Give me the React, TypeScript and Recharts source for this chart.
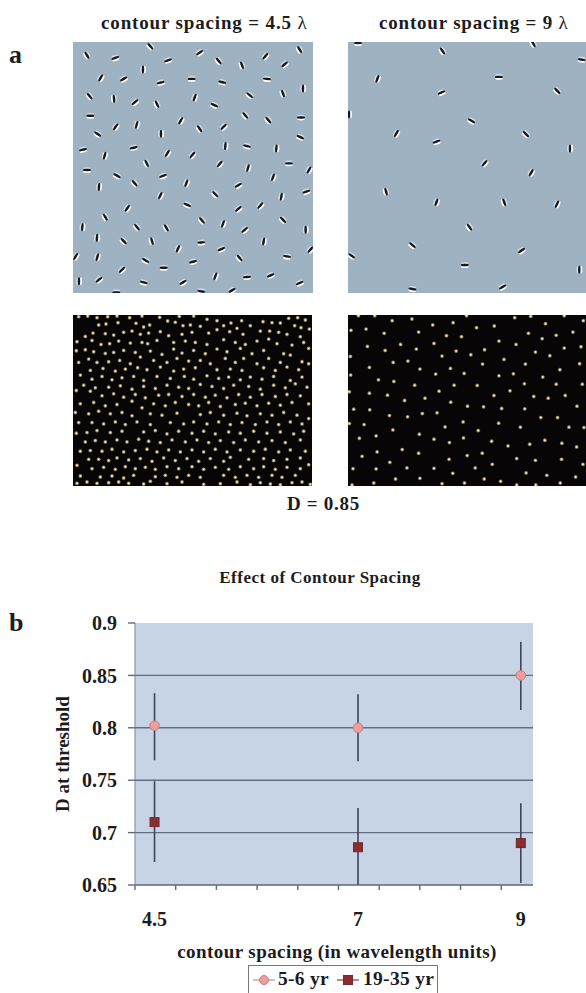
import { CartesianGrid, ErrorBar, Legend, Scatter, ScatterChart, XAxis, YAxis } from "recharts";

// panel a, top row: gabor patches [x, y, tilt in degrees]
const gaborsDense = [
  [262,165,-60],[347,173,20],[452,138,-50],[505,180,20],[600,157,35],[657,182,-50],[727,195,-70],[797,168,50],[855,192,40],[900,148,-60],
  [430,208,90],[303,233,60],[372,236,30],[483,247,15],[576,236,0],[668,246,-15],[802,236,-5],[270,288,-50],[343,296,-85],[406,306,40],
  [472,312,-65],[585,292,70],[644,315,-25],[750,285,-40],[850,280,-70],[910,265,90],[272,347,0],[348,380,55],[411,374,75],[543,362,60],
  [600,386,-55],[672,380,45],[737,346,-50],[806,360,-50],[904,352,0],[294,402,-35],[484,401,90],[902,411,-25],[402,443,15],[250,449,15],
  [677,438,85],[742,438,-15],[830,445,85],[315,467,75],[503,460,60],[578,465,50],[441,490,-65],[660,492,50],[745,504,75],[868,490,0],
  [262,510,0],[352,527,-30],[490,528,20],[820,532,70],[928,510,60],[405,550,-50],[298,561,85],[560,550,70],[716,556,30],[482,587,65],
  [647,583,-45],[845,590,80],[920,575,20],[563,615,-25],[383,625,55],[716,627,40],[782,617,50],[317,652,-60],[607,662,-50],[670,672,70],
  [850,660,-45],[248,682,85],[412,682,-50],[500,684,-60],[735,690,40],[918,690,90],[292,714,85],[372,724,-45],[457,724,-75],[605,728,5],
  [792,725,80],[535,747,65],[665,748,25],[932,750,50],[720,775,-50],[862,770,-10],[293,772,75],[228,770,60],[438,782,-30],[580,786,15],
  [492,804,0],[367,810,45],[238,845,90],[298,840,40],[432,848,-15],[550,848,30],[647,830,70],[742,832,5],[813,827,25],[900,850,25],
  [605,875,-10],[697,872,30],[350,878,0],
];
const gaborsSparse = [
  [115,128,0],[640,130,-60],[368,152,-55],[785,178,-10],[173,236,70],[537,230,0],[365,277,25],[712,272,-45],[88,343,90],[455,362,-30],
  [230,400,60],[618,402,-45],[350,425,20],[750,445,90],[494,490,50],[634,518,60],[199,575,-75],[350,607,70],[553,607,-70],[711,613,65],
  [449,682,-55],[278,736,-40],[605,752,35],[96,768,-35],[435,796,0],[778,810,90],[278,868,-10],[548,862,30],
];

// panel a, bottom row: dot positions [x, y]
const dotsDense = [
  [55,35],[82,33],[110,38],[142,35],[170,33],[208,38],[245,33],[298,37],[357,34],[400,33],[440,43],[470,47],[512,54],[544,47],[608,50],[635,53],[660,54],[685,40],[712,38],[735,45],
  [98,84],[115,60],[137,57],[173,53],[227,55],[250,66],[268,60],[322,48],[345,52],[368,62],[390,60],[420,64],[490,62],[530,70],[570,62],[600,78],[628,78],[655,82],[703,62],[722,68],
  [75,94],[135,86],[160,90],[190,82],[215,78],[240,88],[265,84],[300,80],[325,92],[365,88],[395,82],[445,84],[470,74],[508,80],[548,88],[625,102],[680,88],[720,95],[747,72],
  [50,110],[95,106],[122,118],[148,116],[175,108],[210,114],[245,112],[262,116],[290,106],[340,112],[375,108],[405,112],[440,118],[490,104],[525,112],[555,118],[590,108],[650,116],[695,120],[730,112],
  [48,137],[75,134],[100,140],[135,145],[160,142],[190,136],[225,142],[270,138],[305,148],[340,132],[365,144],[400,136],[435,146],[470,132],[500,140],[540,130],[575,146],[610,136],[670,146],[745,130],
  [55,172],[85,162],[110,172],[145,170],[178,166],[210,176],[240,156],[280,166],[320,172],[350,160],[385,168],[420,166],[450,176],[495,160],[525,172],[550,160],[590,176],[625,160],[660,172],[690,150],[725,170],
  [90,196],[128,190],[165,198],[195,192],[232,188],[260,194],[300,186],[340,198],[370,192],[405,188],[470,194],[510,192],[545,196],[610,188],[645,196],[680,186],[715,194],[745,176],
  [60,210],[95,222],[125,214],[155,224],[185,218],[220,214],[250,226],[290,214],[330,220],[372,214],[400,222],[440,212],[475,220],[505,216],[540,224],[570,216],[605,222],[640,214],[690,226],[725,216],
  [48,256],[70,240],[105,248],[145,246],[180,242],[215,252],[250,244],[285,250],[320,240],[355,246],[385,250],[420,238],[455,244],[490,250],[520,240],[565,244],[600,252],[640,240],[675,248],[705,236],[740,246],
  [90,258],[125,272],[160,266],[190,276],[225,268],[255,278],[295,270],[325,268],[365,274],[400,268],[435,276],[465,270],[500,278],[535,268],[570,276],[605,268],[645,274],[680,268],[720,272],
  [60,296],[100,292],[135,302],[170,298],[215,288],[245,308],[280,296],[315,302],[345,292],[385,298],[415,302],[445,292],[480,304],[525,298],[555,294],[590,302],[625,294],[660,300],[695,292],[745,296],
  [45,322],[85,326],[115,318],[150,326],[185,322],[215,332],[270,326],[305,330],[350,324],[420,328],[450,322],[490,330],[530,324],[560,332],[600,326],[635,330],[670,322],[710,330],
  [55,352],[95,352],[130,356],[165,350],[195,358],[230,350],[270,358],[330,352],[370,356],[400,350],[440,356],[475,350],[510,358],[545,352],[585,358],[620,350],[655,358],[690,350],[725,356],[745,340],
  [80,382],[110,376],[150,382],[185,378],[250,380],[285,376],[320,386],[355,378],[395,384],[430,378],[465,386],[505,380],[540,384],[580,378],[620,384],[660,380],[700,386],[730,378],
  [48,384],[75,410],[105,406],[135,410],[170,404],[200,410],[235,402],[265,408],[300,412],[335,404],[375,410],[410,404],[445,412],[480,406],[520,412],[555,404],[595,410],[635,406],[675,412],[720,404],
  [60,438],[90,436],[125,438],[155,432],[190,440],[225,436],[260,432],[290,440],[325,434],[360,440],[395,434],[430,440],[465,432],[500,440],[540,434],[580,438],[615,432],[655,440],[690,434],[735,438],
  [50,480],[85,462],[115,462],[145,466],[170,458],[205,464],[240,460],[275,468],[310,458],[345,466],[380,460],[415,468],[450,460],[490,468],[510,456],[565,462],[610,460],[640,466],[680,462],[720,458],[745,478],
  [95,490],[130,486],[165,492],[195,484],[225,490],[255,486],[285,492],[320,484],[355,490],[395,484],[430,492],[465,486],[505,492],[540,484],[580,490],[610,484],[645,492],[680,486],[720,490],
  [60,512],[120,515],[155,512],[190,518],[220,510],[285,514],[315,510],[350,516],[385,510],[420,516],[490,510],[525,516],[560,510],[595,516],[635,510],[665,516],[705,510],
  [50,534],[80,530],[110,534],[145,532],[175,530],[205,534],[250,536],[270,528],[320,535],[365,530],[430,537],[480,535],[530,530],[570,538],[600,532],[630,536],[660,538],[695,532],[725,530],[750,537],
];
const dotsSparse = [
  [55,32],[104,32],[156,47],[215,42],[277,60],[338,53],[378,32],[408,68],[461,63],[522,38],[570,34],[614,56],[670,32],[727,47],
  [33,76],[78,72],[132,85],[235,81],[318,92],[363,95],[563,85],[604,101],[646,91],[696,81],
  [82,124],[135,136],[181,118],[228,132],[281,115],[475,108],[526,118],[432,134],[670,129],[720,125],
  [31,154],[305,153],[347,138],[391,149],[584,141],[627,152],[490,163],
  [88,187],[159,172],[203,168],[239,192],[330,190],[426,177],[554,177],[657,194],[716,176],
  [32,210],[286,207],[371,205],[475,212],[518,206],[606,216],
  [115,224],[161,229],[223,240],[341,240],[410,241],[551,236],[646,237],[724,237],
  [28,260],[88,264],[142,270],[296,258],[460,271],[508,257],[579,274],[622,279],[673,271],
  [193,286],[254,279],[331,291],[381,303],[429,305],[708,303],
  [41,312],[89,314],[148,331],[202,335],[246,325],[290,323],[483,310],[552,311],[600,337],[650,337],
  [28,355],[72,358],[368,350],[474,354],[314,365],[539,366],[684,366],[729,367],
  [158,374],[413,376],
  [58,399],[108,392],[237,387],[281,402],[369,398],[327,412],[453,408],[612,405],[567,417],[663,414],[502,422],[707,425],
  [111,440],[186,433],[235,444],[425,444],[66,453],[380,451],
  [149,471],[326,462],[455,477],[528,460],[584,465],[662,462],
  [39,490],[108,491],[200,488],[281,489],[404,488],[726,477],
  [337,504],[556,503],[618,510],[704,515],
  [101,533],[166,521],[239,519],[431,521],[480,528],[36,539],[305,535],[372,533],[528,539],[585,539],[658,533],
];

// panel b
const spacing = [4.5, 7, 9];
const children = [0.802, 0.8, 0.85];
const childrenErr = [[0.033, 0.031], [0.032, 0.032], [0.033, 0.032]];
const adults = [0.71, 0.686, 0.69];
const adultsErr = [[0.038, 0.039], [0.036, 0.0375], [0.038, 0.038]];
const yTicks = [0.65, 0.7, 0.75, 0.8, 0.85, 0.9];
const gridValues = [0.7, 0.75, 0.8, 0.85];
const xMinorTicks = [4.26, 4.76, 5.26, 5.76, 6.26, 6.76, 7.26, 7.76, 8.26, 8.76];

const serif = "'Liberation Serif', serif";
const ink = "#1c1c20";

const toPoints = (rows: number[][]) => rows.map(([x, y, tilt]) => ({ x, y, tilt }));

function GaborMark(props: any) {
  const { cx, cy, payload } = props;
  return (
    <g transform={`translate(${cx} ${cy}) rotate(${-payload.tilt})`}>
      <ellipse cx={0} cy={-1.9} rx={3.6} ry={0.9} fill="#e8eef2" opacity={0.7} />
      <ellipse cx={0} cy={1.9} rx={3.8} ry={1.1} fill="#fbfcfd" />
      <ellipse cx={0} cy={0} rx={4} ry={1.2} fill="#14181c" />
    </g>
  );
}

function DotMark(props: any) {
  const { cx, cy } = props;
  return (
    <g>
      <circle cx={cx} cy={cy} r={1.9} fill="#8f8358" />
      <circle cx={cx} cy={cy} r={1} fill="#f6ecb4" />
    </g>
  );
}

function Stimulus({ left, top, width, height, xDomain, yDomain, points, fill, mark }: any) {
  return (
    <div style={{ position: "absolute", left, top, filter: "blur(0.4px)" }}>
      <ScatterChart width={width} height={height} margin={{ top: 0, right: 0, bottom: 0, left: 0 }}>
        <CartesianGrid horizontal={false} vertical={false} fill={fill} />
        <XAxis type="number" dataKey="x" domain={xDomain} hide />
        <YAxis type="number" dataKey="y" domain={yDomain} reversed hide />
        <Scatter data={points} shape={mark} isAnimationActive={false} />
      </ScatterChart>
    </div>
  );
}

function Caption({ left, top, size, spacing: tracking, children: text, width }: any) {
  return (
    <div
      style={{
        position: "absolute",
        left,
        top,
        width,
        fontFamily: serif,
        fontWeight: 700,
        fontSize: size,
        letterSpacing: tracking,
        color: ink,
        lineHeight: 1,
        whiteSpace: "nowrap",
        textAlign: width ? "center" : "left",
      }}
    >
      {text}
    </div>
  );
}

const CircleMark = (p: any) => <circle cx={p.cx} cy={p.cy} r={4.8} fill="#f49c9c" stroke="#b5858c" strokeWidth={1} />;
const SquareMark = (p: any) => <rect x={p.cx - 4.5} y={p.cy - 4.5} width={9} height={9} fill="#8f2a2f" stroke="#6d2c30" strokeWidth={1} />;
const NoMark = () => <g />;

function LegendBox() {
  const label = { fontFamily: serif, fontWeight: 700, fontSize: 19.5, letterSpacing: 0.3, color: ink };
  return (
    <div
      style={{
        position: "relative",
        width: 188,
        height: 27,
        border: "1px solid #777",
        background: "#fff",
      }}
    >
      <svg width={22} height={14} style={{ position: "absolute", left: 4, top: 7 }}>
        <line x1={0} y1={7} x2={22} y2={7} stroke="#d9a0a4" strokeWidth={1.5} />
        <circle cx={11} cy={7} r={4.5} fill="#f49c9c" stroke="#b5858c" />
      </svg>
      <span style={{ ...label, position: "absolute", left: 29, top: 2 }}>5-6 yr</span>
      <svg width={22} height={14} style={{ position: "absolute", left: 88, top: 7 }}>
        <line x1={0} y1={7} x2={22} y2={7} stroke="#a86066" strokeWidth={1.5} />
        <rect x={6.5} y={2.5} width={9} height={9} fill="#8f2a2f" stroke="#6d2c30" />
      </svg>
      <span style={{ ...label, position: "absolute", left: 114, top: 2 }}>19-35 yr</span>
    </div>
  );
}

export default function App() {
  const childPoints = spacing.map((x, i) => ({ x, y: children[i], err: childrenErr[i] }));
  const adultPoints = spacing.map((x, i) => ({ x, y: adults[i], err: adultsErr[i] }));
  const tickStyle = { fontFamily: serif, fontWeight: 700, fontSize: 20, fill: ink };
  const tickMark = { stroke: "#5e687e", strokeWidth: 1.4 };

  return (
    <div style={{ position: "absolute", left: 0, top: 0, width: 586, height: 993, background: "#fff", overflow: "hidden" }}>
      <Caption left={101} top={13} size={19} spacing={0.85}>
        contour spacing = 4.5 <span style={{ fontWeight: 400 }}>λ</span>
      </Caption>
      <Caption left={379} top={13} size={19} spacing={0.8}>
        contour spacing = 9 <span style={{ fontWeight: 400 }}>λ</span>
      </Caption>
      <Caption left={9} top={42} size={26}>a</Caption>
      <Caption left={9} top={610} size={26}>b</Caption>
      <Caption left={287} top={494} size={19} spacing={0.7}>D = 0.85</Caption>
      <Caption left={120} top={569} width={400} size={17} spacing={0.5}>Effect of Contour Spacing</Caption>

      <Stimulus left={73} top={42} width={240} height={251} xDomain={[220, 940]} yDomain={[125, 880]} points={toPoints(gaborsDense)} fill="#9fb2c1" mark={GaborMark} />
      <Stimulus left={348} top={42} width={238} height={251} xDomain={[85, 798]} yDomain={[125, 880]} points={toPoints(gaborsSparse)} fill="#9fb2c1" mark={GaborMark} />
      <Stimulus left={73} top={315} width={239} height={171} xDomain={[38, 755]} yDomain={[30, 542]} points={toPoints(dotsDense)} fill="#070506" mark={DotMark} />
      <Stimulus left={348} top={315} width={238} height={171} xDomain={[24, 735]} yDomain={[30, 542]} points={toPoints(dotsSparse)} fill="#070506" mark={DotMark} />

      <div style={{ position: "absolute", left: 0, top: 600 }}>
        <ScatterChart width={586} height={393} margin={{ top: 23, right: 53, bottom: 40, left: 0 }}>
          <CartesianGrid
            vertical={false}
            horizontalValues={gridValues}
            stroke="#626d84"
            strokeWidth={1.4}
            fill="#c6d4e5"
          />
          <XAxis
            xAxisId="axisTicks"
            type="number"
            dataKey="x"
            domain={[4.26, 9.15]}
            ticks={xMinorTicks}
            interval={0}
            height={8}
            tickFormatter={() => ""}
            tickLine={tickMark}
            tickSize={5}
            axisLine={tickMark}
          />
          <XAxis
            xAxisId="values"
            type="number"
            dataKey="x"
            domain={[4.26, 9.15]}
            ticks={spacing}
            interval={0}
            height={60}
            axisLine={false}
            tickLine={false}
            tick={tickStyle}
            tickMargin={13}
            label={{
              value: "contour spacing (in wavelength units)",
              position: "insideBottom",
              offset: -5,
              dx: 3,
              style: { ...tickStyle, fontSize: 19, letterSpacing: 0.43 },
            }}
          />
          <YAxis
            type="number"
            dataKey="y"
            domain={[0.65, 0.9]}
            ticks={yTicks}
            interval={0}
            width={135}
            tick={tickStyle}
            tickLine={tickMark}
            tickSize={7}
            tickMargin={11}
            axisLine={{ stroke: "#7b869c" }}
            label={{
              value: "D at threshold",
              angle: -90,
              position: "insideLeft",
              offset: 62,
              style: { ...tickStyle, fontSize: 19, textAnchor: "middle" },
            }}
          />
          <Legend
            layout="horizontal"
            verticalAlign="middle"
            content={() => <LegendBox />}
            wrapperStyle={{ position: "absolute", left: 248, top: 365, width: 190, height: 28 }}
          />
          <Scatter xAxisId="axisTicks" data={adultPoints} shape={NoMark} legendType="none" isAnimationActive={false} />
          <Scatter name="5-6 yr" xAxisId="values" data={childPoints} shape={CircleMark} isAnimationActive={false}>
            <ErrorBar dataKey="err" direction="y" width={0} stroke="#3e4558" strokeWidth={1.6} isAnimationActive={false} />
          </Scatter>
          <Scatter name="19-35 yr" xAxisId="values" data={adultPoints} shape={SquareMark} isAnimationActive={false}>
            <ErrorBar dataKey="err" direction="y" width={0} stroke="#3e4558" strokeWidth={1.6} isAnimationActive={false} />
          </Scatter>
        </ScatterChart>
      </div>
    </div>
  );
}
